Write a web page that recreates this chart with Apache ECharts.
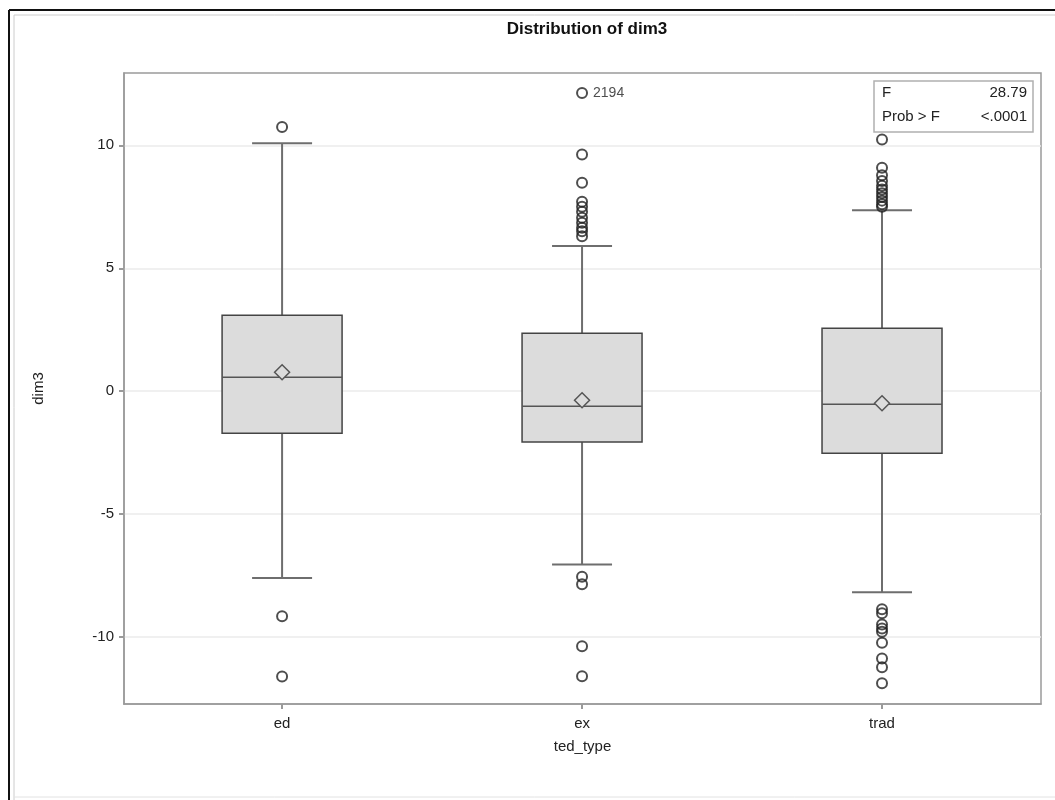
<!DOCTYPE html>
<html>
<head>
<meta charset="utf-8">
<script src="https://cdn.jsdelivr.net/npm/echarts@6/dist/echarts.min.js"></script>
<style>
  html, body { margin: 0; padding: 0; background: #fff; }
  #box { width: 1055px; height: 800px; }
</style>
</head>
<body>
<div id="box"></div>
<script>
  // categories and box statistics
  var categories = ['ed', 'ex', 'trad']
  var lowerWhisker = [-7.6, -7.05, -8.18]
  var q1 = [-1.71, -2.07, -2.52]
  var median = [0.57, -0.61, -0.53]
  var q3 = [3.09, 2.36, 2.56]
  var upperWhisker = [10.08, 5.9, 7.36]
  var mean = [0.77, -0.37, -0.49]

  // outliers per category
  var outEd = [10.74, -9.15, -11.6]
  var outEx = [9.63, 8.48, 7.7, 7.5, 7.3, 7.05, 6.85, 6.65, 6.5, 6.3, -7.55, -7.85, -10.37, -11.59]
  var outTrad = [10.24, 9.09, 8.78, 8.55, 8.35, 8.2, 8.05, 7.9, 7.75, 7.6, 7.5,
    -8.87, -9.03, -9.49, -9.65, -9.78, -10.23, -10.87, -11.23, -11.88]
  var labelled = { cat: 1, value: 12.13, id: '2194' }

  var yTicks = [-10, -5, 0, 5, 10]
  var xTicks = [0, 1, 2]
  var stats = [['F', '28.79'], ['Prob > F', '<.0001']]

  var boxData = categories.map(function (c, i) {
    return [i, lowerWhisker[i], q1[i], median[i], q3[i], upperWhisker[i], mean[i]]
  })
  var outliers = []
  ;[outEd, outEx, outTrad].forEach(function (arr, i) {
    arr.forEach(function (v) { outliers.push([i, v]) })
  })

  var chart = echarts.init(document.getElementById('box'))
  var font = 'Liberation Sans, Arial, sans-serif'

  function renderBox(params, api) {
    var x = api.value(0)
    var unit = api.size([1, 0])[0]
    var w = unit * 0.4
    var cap = w / 2
    var pLo = api.coord([x, api.value(1)])
    var pQ1 = api.coord([x, api.value(2)])
    var pMed = api.coord([x, api.value(3)])
    var pQ3 = api.coord([x, api.value(4)])
    var pHi = api.coord([x, api.value(5)])
    var pMean = api.coord([x, api.value(6)])
    var cx = pMed[0]
    var line = { stroke: '#6e6e6e', lineWidth: 2 }
    var d = 7.5
    return {
      type: 'group',
      children: [
        { type: 'line', shape: { x1: cx, y1: pQ3[1], x2: cx, y2: pHi[1] }, style: line },
        { type: 'line', shape: { x1: cx, y1: pQ1[1], x2: cx, y2: pLo[1] }, style: line },
        { type: 'line', shape: { x1: cx - cap / 2, y1: pHi[1], x2: cx + cap / 2, y2: pHi[1] }, style: line },
        { type: 'line', shape: { x1: cx - cap / 2, y1: pLo[1], x2: cx + cap / 2, y2: pLo[1] }, style: line },
        { type: 'rect', shape: { x: cx - w / 2, y: pQ3[1], width: w, height: pQ1[1] - pQ3[1] },
          style: { fill: '#dcdcdc', stroke: '#444', lineWidth: 1.5 } },
        { type: 'line', shape: { x1: cx - w / 2, y1: pMed[1], x2: cx + w / 2, y2: pMed[1] },
          style: { stroke: '#555', lineWidth: 1.5 } },
        { type: 'polygon', shape: { points: [[cx, pMean[1] - d], [cx + d, pMean[1]], [cx, pMean[1] + d], [cx - d, pMean[1]]] },
          style: { fill: '#dcdcdc', stroke: '#555', lineWidth: 1.5 } }
      ]
    }
  }

  chart.setOption({
    animation: false,
    title: {
      text: 'Distribution of dim3',
      left: 582,
      top: 16,
      textAlign: 'center',
      textStyle: { fontFamily: font, fontSize: 17, fontWeight: 'bold', color: '#111' }
    },
    grid: {
      left: 124, right: 14, top: 73, bottom: 96,
      show: true, borderColor: '#9a9a9a', borderWidth: 1.5, backgroundColor: 'transparent'
    },
    xAxis: {
      type: 'value',
      min: -0.527,
      max: 2.53,
      name: 'ted_type',
      nameLocation: 'middle',
      nameGap: 35,
      nameTextStyle: { fontFamily: font, fontSize: 15, color: '#222' },
      axisLine: { show: true, onZero: false, lineStyle: { color: '#9a9a9a', width: 1.5 } },
      axisTick: { show: true, length: 5, customValues: xTicks, lineStyle: { color: '#9a9a9a', width: 2 } },
      axisLabel: {
        fontFamily: font, fontSize: 15, color: '#222', margin: 12, customValues: xTicks,
        formatter: function (v) { return categories[Math.round(v)] }
      },
      splitLine: { show: false }
    },
    yAxis: {
      type: 'value',
      min: -12.72,
      max: 12.94,
      name: 'dim3',
      nameLocation: 'middle',
      nameGap: 78,
      nameTextStyle: { fontFamily: font, fontSize: 15, color: '#222' },
      axisLine: { show: true, onZero: false, lineStyle: { color: '#9a9a9a', width: 1.5 } },
      axisTick: { show: true, length: 5, customValues: yTicks, lineStyle: { color: '#9a9a9a', width: 2 } },
      axisLabel: { fontFamily: font, fontSize: 15, color: '#222', margin: 10, customValues: yTicks },
      splitLine: { show: true, lineStyle: { color: '#ebebeb', width: 1.5 } }
    },
    graphic: [
      { type: 'line', shape: { x1: 9, y1: 10, x2: 9, y2: 800 }, style: { stroke: '#111', lineWidth: 2 } },
      { type: 'line', shape: { x1: 9, y1: 10, x2: 1055, y2: 10 }, style: { stroke: '#111', lineWidth: 2 } },
      { type: 'line', shape: { x1: 14, y1: 15, x2: 14, y2: 800 }, style: { stroke: '#ccc', lineWidth: 1 } },
      { type: 'line', shape: { x1: 14, y1: 15, x2: 1055, y2: 15 }, style: { stroke: '#ccc', lineWidth: 1 } },
      { type: 'line', shape: { x1: 14, y1: 797, x2: 1055, y2: 797 }, style: { stroke: '#e2e2e2', lineWidth: 1 } },
      { type: 'rect', shape: { x: 874, y: 81, width: 159, height: 51 },
        style: { fill: '#fff', stroke: '#b0b0b0', lineWidth: 1.5 } },
      { type: 'text', x: 882, y: 93, style: { text: stats[0][0], font: '15px ' + font, fill: '#222', verticalAlign: 'middle' } },
      { type: 'text', x: 1027, y: 93, style: { text: stats[0][1], font: '15px ' + font, fill: '#222', align: 'right', verticalAlign: 'middle' } },
      { type: 'text', x: 882, y: 117, style: { text: stats[1][0], font: '15px ' + font, fill: '#222', verticalAlign: 'middle' } },
      { type: 'text', x: 1027, y: 117, style: { text: stats[1][1], font: '15px ' + font, fill: '#222', align: 'right', verticalAlign: 'middle' } }
    ],
    series: [
      {
        type: 'custom',
        renderItem: renderBox,
        data: boxData,
        encode: { x: 0, y: [1, 2, 3, 4, 5, 6] },
        z: 2
      },
      {
        type: 'scatter',
        data: outliers,
        symbol: 'circle',
        symbolSize: 10,
        itemStyle: { color: 'rgba(255,255,255,0)', borderColor: '#222', borderWidth: 2 },
        z: 3
      },
      {
        type: 'scatter',
        data: [[labelled.cat, labelled.value]],
        symbol: 'circle',
        symbolSize: 10,
        itemStyle: { color: 'rgba(255,255,255,0)', borderColor: '#222', borderWidth: 2 },
        label: {
          show: true, position: 'right', distance: 5,
          formatter: labelled.id,
          fontFamily: font, fontSize: 14, color: '#222'
        },
        z: 3
      }
    ]
  })
</script>
</body>
</html>
